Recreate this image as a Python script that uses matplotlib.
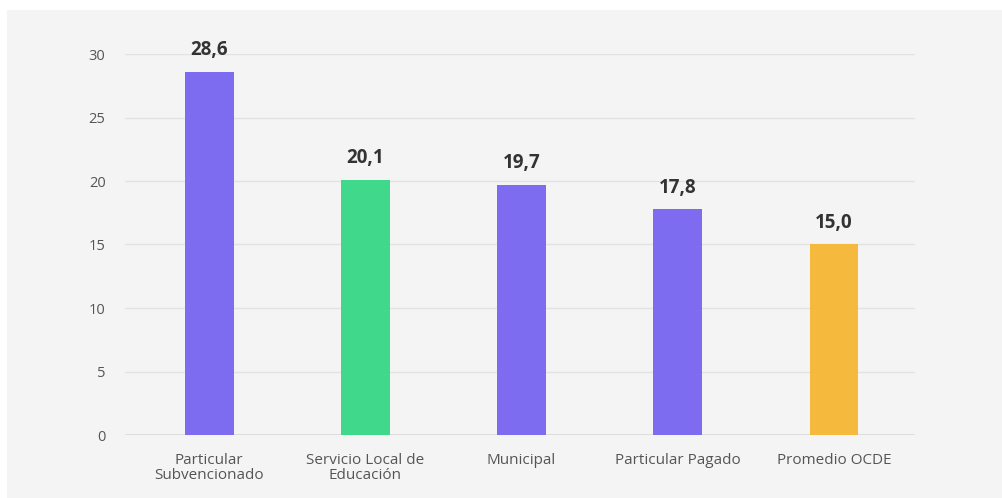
import numpy as np
import matplotlib.pyplot as plt
from matplotlib.patches import Rectangle

categories = ['Particular\nSubvencionado', 'Servicio Local de\nEducación', 'Municipal',
              'Particular Pagado', 'Promedio OCDE']
values = [28.6, 20.1, 19.7, 17.8, 15.0]
colors = ['#7d6cf0', '#40d98b', '#7d6cf0', '#7d6cf0', '#f5ba3d']
yticks = [0, 5, 10, 15, 20, 25, 30]

plt.rcParams['font.family'] = ['Open Sans', 'DejaVu Sans']

W, H = 1003, 498
fig = plt.figure(figsize=(W / 100, H / 100), dpi=100)
fig.patch.set_facecolor('white')
fig.patches.append(Rectangle((7 / W, 0), 1 - 7 / W, 1 - 10 / H, transform=fig.transFigure,
                             facecolor='#f4f4f4', edgecolor='none', zorder=-10))

ax = fig.add_axes([125 / W, (H - 435) / H, 790 / W, 381 / H])
ax.set_facecolor('none')

x = np.arange(len(values))
bars = ax.bar(x, values, width=0.31, color=colors, zorder=3)
for xi, v in zip(x, values):
    ax.text(xi, v + 0.9, f'{v:.1f}'.replace('.', ','), ha='center', va='bottom',
            fontsize=13.5, fontweight='bold', color='#333333', clip_on=False)

ax.set_xlim(-0.54, 4.52)
ax.set_ylim(0, 30)
ax.set_yticks(yticks)
ax.yaxis.grid(True, color='#e2e2e2', linewidth=1, zorder=0)
ax.axhline(0, color='#d8d8d8', linewidth=1.2, zorder=1)
ax.set_xticks(x)
ax.set_xticklabels(categories, fontsize=11, color='#555555', linespacing=1.0)
ax.tick_params(axis='y', labelsize=10.5, labelcolor='#555555', length=0, pad=14)
ax.tick_params(axis='x', length=0, pad=13)
for s in ax.spines.values():
    s.set_visible(False)

fig.savefig('out.png', dpi=100, facecolor=fig.get_facecolor())
